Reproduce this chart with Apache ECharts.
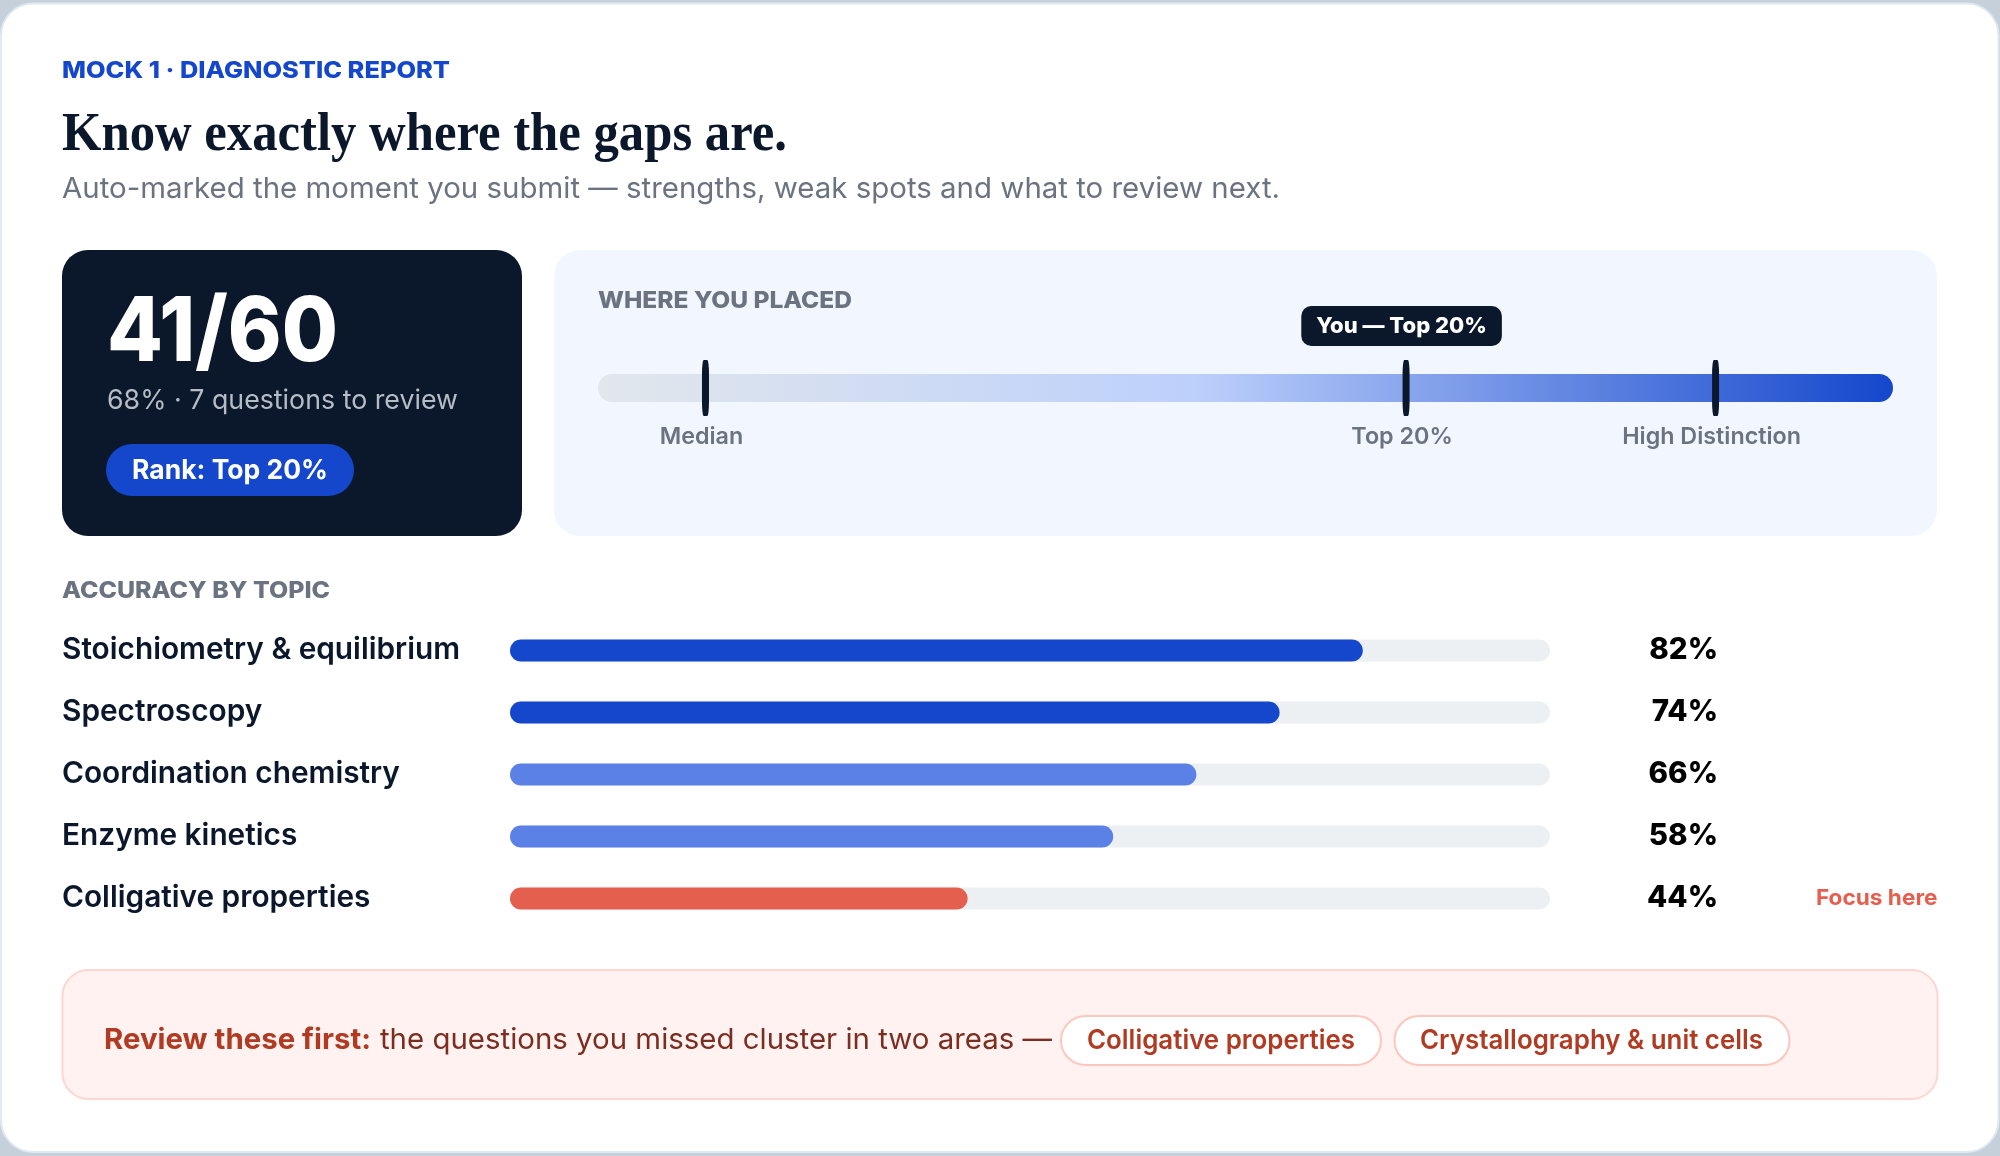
<!DOCTYPE html>
<html><head><meta charset="utf-8">
<style>html,body{margin:0;padding:0;background:#c6d0da}#c{width:2000px;height:1156px}</style>
<script src="https://cdn.jsdelivr.net/npm/echarts@6/dist/echarts.min.js"></script>
</head><body><div id="c"></div>
<script>
const topics = ['Stoichiometry & equilibrium','Spectroscopy','Coordination chemistry','Enzyme kinetics','Colligative properties'];
const accuracy = [82,74,66,58,44];
const placementNames = ['Median','Top 20%','High Distinction'];
const placementValues = [8.3,62.4,86.3];
const youLabel = 'You — Top 20%';
const focusPills = ['Colligative properties','Crystallography & unit cells'];

const INK='#0b172a', BLUE='#1447cc', MID='#5b80e6', CORAL='#e55f4e', GREY='#6b7280', BRICK='#b03a22';
const sans='Inter';
const tier=v=>v>=70?BLUE:v>=50?MID:CORAL;

const meas=document.createElement('canvas').getContext('2d');
function txt(s,x,cy,font,fill,target,extra){
  meas.font=font;
  const w=meas.measureText(s).width;
  const o={type:'text',x,y:cy,z:10,scaleX:target?target/w:1,
    style:Object.assign({text:s,font,fill,textVerticalAlign:'middle',textBaseline:'middle',textAlign:'left'},extra||{})};
  return o;
}
function box(x,y,width,height,r,fill,stroke,lw){
  return {type:'rect',z:1,shape:{x,y,width,height,r},style:{fill,stroke:stroke||null,lineWidth:lw||0}};
}
const chart=echarts.init(document.getElementById('c'),null,{width:2000,height:1156,renderer:'canvas'});
const graphics=[
  box(1,3.5,1997.5,1148.5,32,'#ffffff','#e2e8f0',2),
  txt('MOCK 1 · DIAGNOSTIC REPORT',62,71,`800 23px ${sans}`,BLUE,388),
  txt('Know exactly where the gaps are.',62,136,`bold 54px "Liberation Serif"`,INK,725),
  txt('Auto-marked the moment you submit — strengths, weak spots and what to review next.',62,189,`400 29px ${sans}`,GREY,1218),
  box(62,250,460,286,26,INK),
  txt('41/60',107,334,`800 90px ${sans}`,'#ffffff',231),
  txt('68% · 7 questions to review',107,401,`400 27px ${sans}`,'#b6bcc6',351),
  box(106,444,248,52,26,BLUE),
  txt('Rank: Top 20%',132,471,`700 27px ${sans}`,'#ffffff',196),
  box(554,250,1383,286,26,'#f2f6ff'),
  txt('WHERE YOU PLACED',598,301,`800 23px ${sans}`,GREY,254),
  txt('ACCURACY BY TOPIC',62,591,`800 23px ${sans}`,GREY,268),
  txt('Focus here',1816,898,`700 22px ${sans}`,CORAL,121.5),
  box(62.5,970,1875,129,26,'#fff2f0','#fdd6d0',2),
  txt('Review these first:',104,1040,`700 29px ${sans}`,BRICK,267),
  txt('the questions you missed cluster in two areas —',380,1040,`400 29px ${sans}`,'#7b2d20',672),
  box(1061,1016,320,49,24.5,'#ffffff','#fcc7bc',2),
  txt(focusPills[0],1087,1041,`600 27px ${sans}`,BRICK,268),
  box(1394.5,1016,395,49,24.5,'#ffffff','#fcc7bc',2),
  txt(focusPills[1],1420,1041,`600 27px ${sans}`,BRICK,343)
];
chart.setOption({
  animation:false,
  backgroundColor:'#c6d0da',
  graphic:{elements:graphics},
  grid:[
    {left:510,top:619.5,width:1040,height:310,containLabel:false},
    {left:598,top:374,width:1295,height:28}
  ],
  xAxis:[
    {gridIndex:0,type:'value',min:0,max:100,show:false},
    {gridIndex:1,type:'value',min:0,max:100,show:false}
  ],
  yAxis:[
    {gridIndex:0,z:8,type:'category',inverse:true,data:topics,position:'left',
      axisLine:{show:false},axisTick:{show:false},
      axisLabel:{align:'left',margin:448,color:INK,fontFamily:sans,fontWeight:600,fontSize:29.8}},
    {gridIndex:0,z:8,type:'category',inverse:true,data:topics,position:'right',
      axisLine:{show:false},axisTick:{show:false},
      axisLabel:{align:'right',margin:168,color:'#000',fontFamily:sans,fontWeight:800,fontSize:29.5,
        formatter:(v,i)=>accuracy[i]+'%'}},
    {gridIndex:1,type:'category',data:['placement'],show:false}
  ],
  series:[
    {type:'bar',xAxisIndex:0,yAxisIndex:0,barWidth:22,z:3,
      showBackground:true,backgroundStyle:{color:'#edf0f3',borderRadius:11},
      itemStyle:{borderRadius:11},
      data:accuracy.map(v=>({value:v,itemStyle:{color:tier(v)}}))},
    {type:'bar',xAxisIndex:1,yAxisIndex:2,barWidth:28,z:3,
      itemStyle:{borderRadius:14,color:new echarts.graphic.LinearGradient(0,0,1,0,[
        {offset:0,color:'#e2e7ec'},{offset:.46,color:'#bdd0fb'},{offset:1,color:BLUE}])},
      data:[100]},
    {type:'scatter',xAxisIndex:1,yAxisIndex:2,z:5,symbol:'roundRect',symbolSize:[7,56],
      itemStyle:{color:INK,opacity:1},
      label:{show:true,position:'bottom',distance:9,offset:[-4,0],color:GREY,fontFamily:sans,fontWeight:600,fontSize:23.3,
        formatter:p=>placementNames[p.dataIndex]},
      data:placementValues.map(v=>[v,'placement'])},
    {type:'scatter',xAxisIndex:1,yAxisIndex:2,z:6,symbol:'rect',symbolSize:[1,56],
      itemStyle:{color:'rgba(0,0,0,0)',opacity:1},
      label:{show:true,position:'top',distance:14,offset:[-4.5,0],color:'#fff',backgroundColor:INK,borderRadius:10,
        padding:[9,15,9,15],fontFamily:sans,fontWeight:800,fontSize:22,formatter:()=>youLabel},
      data:[[placementValues[1],'placement']]}
  ]
});
</script></body></html>
